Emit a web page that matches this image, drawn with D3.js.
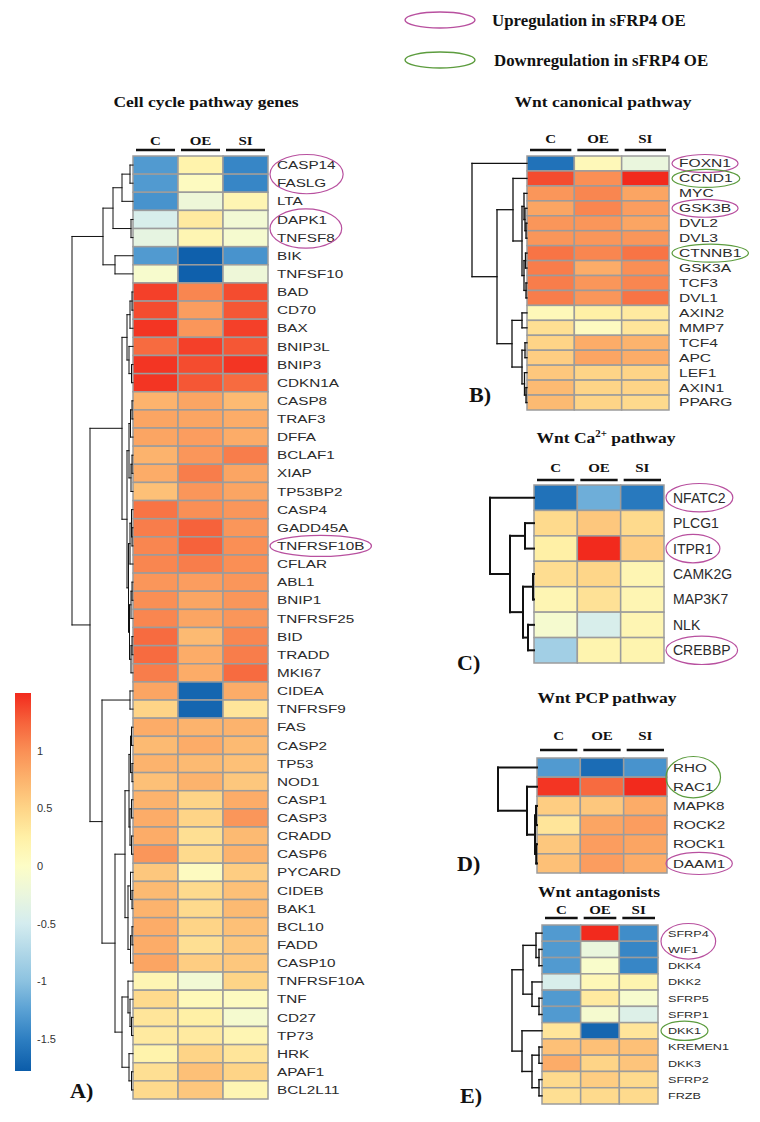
<!DOCTYPE html>
<html>
<head>
<meta charset="utf-8">
<script src="https://cdn.jsdelivr.net/npm/d3@7"></script>
<style>
  body { margin: 0; background: #fff; }
  .lbl { font-family: "Liberation Sans", Arial, sans-serif; fill: #2b2b2b; }
  .serif { font-family: "Liberation Serif", "Times New Roman", serif; font-weight: bold; fill: #111; }
</style>
</head>
<body>
<div id="chart"></div>
<script>
const samples = ["C", "OE", "SI"];

// ---- A) cell cycle pathway genes
const genesA = ["CASP14","FASLG","LTA","DAPK1","TNFSF8","BIK","TNFSF10","BAD","CD70","BAX","BNIP3L","BNIP3","CDKN1A",
  "CASP8","TRAF3","DFFA","BCLAF1","XIAP","TP53BP2","CASP4","GADD45A","TNFRSF10B","CFLAR","ABL1","BNIP1","TNFRSF25",
  "BID","TRADD","MKI67","CIDEA","TNFRSF9","FAS","CASP2","TP53","NOD1","CASP1","CASP3","CRADD","CASP6","PYCARD","CIDEB",
  "BAK1","BCL10","FADD","CASP10","TNFRSF10A","TNF","CD27","TP73","HRK","APAF1","BCL2L11"];
const cA  = [-1.3,-1.3,-1.35,-0.45,-0.3,-1.3,-0.08, 1.4,1.35,1.45,1.2,1.45,1.45, 0.75,0.85,0.85,0.75,0.8,0.65,
  1.15,1.1,1.05,1.05,0.95,1.0,1.05,1.2,1.2,1.1, 0.85,0.5, 0.8,0.7,0.75,0.65,0.75,0.8,0.8,0.95,
  0.6,0.7,0.75,0.8,0.8,0.85, 0.15,0.45,0.35,0.3,0.2,0.4,0.45];
const oeA = [0.2,0.05,-0.2,0.3,0.15,-1.75,-1.75, 1.05,0.9,0.95,1.4,1.35,1.3, 0.85,0.85,0.9,0.95,1.1,0.95,
  1.0,1.25,1.25,1.1,0.9,0.85,0.85,0.7,0.8,0.8, -1.7,-1.7, 0.75,0.8,0.7,0.75,0.5,0.5,0.4,0.45,
  0.05,0.45,0.45,0.5,0.4,0.55, -0.15,0.1,0.25,0.3,0.5,0.65,0.6];
const siA = [-1.45,-1.45,0.15,-0.15,-0.1,-1.35,-0.2, 1.35,1.3,1.4,1.3,1.45,1.2, 0.7,0.8,0.8,1.1,0.85,0.85,
  0.95,0.95,1.0,1.0,0.95,0.95,0.95,1.05,1.1,1.2, 0.8,0.35, 0.75,0.7,0.65,0.6,0.8,0.95,0.7,0.75,
  0.55,0.65,0.7,0.65,0.6,0.6, 0.5,0.05,-0.1,0.15,0.35,0.5,0.15];
// dendrogram: [height, child, child]
const topA = [30, [20, [11, [3, "CASP14", "FASLG"], "LTA"], [2, "DAPK1", "TNFSF8"]], [18, "BIK", "TNFSF10"]];
const redA = [6, [3, [1, "BAD", "CD70"], "BAX"], [4, "BNIP3L", [1.5, "BNIP3", "CDKN1A"]]];
const orangeA = [6,
  [4, [2.5, [1, "CASP8", "TRAF3"], "DFFA"], [2, [1, "BCLAF1", "XIAP"], "TP53BP2"]],
  [4.5, [3, [1.5, "CASP4", [1, "GADD45A", "TNFRSF10B"]], "CFLAR"],
        [3.5, [2, [1, "ABL1", "BNIP1"], "TNFRSF25"], [2, [1, "BID", "TRADD"], "MKI67"]]]];
const lowA = [31, [3, "CIDEA", "TNFRSF9"],
  [18,
    [8, [4, [2.5, [1.5, "FAS", "CASP2"], [1, "TP53", "NOD1"]], [3, [1.5, "CASP1", "CASP3"], [1.5, "CRADD", "CASP6"]]],
        [5, [2.5, "PYCARD", [1, "CIDEB", "BAK1"]], [2.5, [1, "BCL10", "FADD"], "CASP10"]]],
    [11, [5, "TNFRSF10A", [3, "TNF", [1.5, "CD27", "TP73"]]], [4, "HRK", [1.5, "APAF1", "BCL2L11"]]]]];
const treeA = [61, topA, [43, [11, redA, orangeA], lowA]];
const upA = [["CASP14", "FASLG"], ["DAPK1", "TNFSF8"], ["TNFRSF10B"]];
const downA = [];

// ---- B) Wnt canonical pathway
const genesB = ["FOXN1","CCND1","MYC","GSK3B","DVL2","DVL3","CTNNB1","GSK3A","TCF3","DVL1","AXIN2","MMP7","TCF4","APC","LEF1","AXIN1","PPARG"];
const cB  = [-1.6,1.35,0.95,0.85,0.95,0.95,1.15,1.1,1.1,1.1,0.1,0.4,0.5,0.55,0.6,0.7,0.7];
const oeB = [0.1,1.0,1.05,1.05,0.95,0.95,1.05,0.8,0.95,0.95,0.25,0.05,0.8,0.85,0.5,0.5,0.5];
const siB = [-0.25,1.5,0.85,0.9,0.85,0.95,1.15,1.0,1.05,1.15,0.3,0.35,0.75,0.8,0.5,0.5,0.45];
const treeB = [55, "FOXN1", [30,
  [14, "CCND1", [5, [3, "MYC", [2, "GSK3B", [1, "DVL2", "DVL3"]]], [3, [1.5, "CTNNB1", "GSK3A"], [1, "TCF3", "DVL1"]]]],
  [15, [5, "AXIN2", "MMP7"], [5, [2, "TCF4", "APC"], [2.5, "LEF1", [1, "AXIN1", "PPARG"]]]]]];
const upB = [["FOXN1"], ["GSK3B"]];
const downB = [["CCND1"], ["CTNNB1"]];

// ---- C) Wnt Ca2+ pathway
const genesC = ["NFATC2","PLCG1","ITPR1","CAMK2G","MAP3K7","NLK","CREBBP"];
const cC  = [-1.6,0.45,0.25,0.42,0.15,-0.1,-0.85];
const oeC = [-1.15,0.6,1.5,0.48,0.38,-0.45,0.18];
const siC = [-1.55,0.45,0.55,0.15,0.15,0.15,0.18];
const treeC = [44, "NFATC2", [24, [9, "PLCG1", "ITPR1"], [11, [1, "CAMK2G", "MAP3K7"], [6, "NLK", "CREBBP"]]]];
const upC = [["NFATC2"], ["ITPR1"], ["CREBBP"]];
const downC = [];

// ---- D) Wnt PCP pathway
const genesD = ["RHO","RAC1","MAPK8","ROCK2","ROCK1","DAAM1"];
const cD  = [-1.3,1.45,0.55,0.35,0.6,0.65];
const oeD = [-1.65,1.2,0.6,0.85,0.9,0.9];
const siD = [-1.35,1.5,0.8,0.9,0.85,0.8];
const treeD = [39, "RHO", [10, "RAC1", [2, [1, "MAPK8", "ROCK2"], [0.8, "ROCK1", "DAAM1"]]]];
const upD = [["DAAM1"]];
const downD = [["RHO", "RAC1"]];

// ---- E) Wnt antagonists
const genesE = ["SFRP4","WIF1","DKK4","DKK2","SFRP5","SFRP1","DKK1","KREMEN1","DKK3","SFRP2","FRZB"];
const cE  = [-1.3,-1.3,-1.3,-0.45,-1.3,-1.3,0.35,0.65,0.8,0.45,0.4];
const oeE = [1.5,-0.25,-0.05,0.12,0.3,-0.1,-1.7,0.65,0.5,0.55,0.45];
const siE = [-1.4,-1.45,-1.45,0.18,-0.08,-0.4,0.35,0.65,0.62,0.45,0.45];
const treeE = [30, [19, [6, "SFRP4", [3, "WIF1", "DKK4"]], [10, "DKK2", [3, "SFRP5", "SFRP1"]]],
  [20, "DKK1", [10, [3, "KREMEN1", "DKK3"], [3, "SFRP2", "FRZB"]]]];
const upE = [["SFRP4", "WIF1"]];
const downE = [["DKK1"]];

// ---- colour key
const colorStops = [-1.78, -1.5, -1.25, -1, -0.5, -0.25, 0, 0.25, 0.5, 0.75, 1, 1.25, 1.5];
const colorRange = ["#0b5ca9","#2e7fc2","#5aa1d4","#8cc2e0","#d4ecef","#eaf6dd","#fdfdc6",
                    "#fff0a6","#fed487","#fcb36d","#fa8f55","#f6623b","#f22a1d"];
const legendTicks = [1, 0.5, 0, -0.5, -1, -1.5];
const keyItems = ["Upregulation in sFRP4 OE", "Downregulation in sFRP4 OE"];

const UP = "#b8509f", DOWN = "#5c9c3e";

const panels = [
  { letter: "A)", title: [["Cell cycle pathway genes"]], genes: genesA, values: [cA, oeA, siA], tree: treeA, up: upA, down: downA,
    x0: 133, x1: 268, y0: 156, y1: 1099, dendroW: 61, treeStroke: 1,
    titleX: 206, titleY: 107, headY: 145, lineY: 150, lblSize: 11.5, lblSx: 1.33, lblGap: 9,
    letterX: 70, letterY: 1098 },
  { letter: "B)", title: [["Wnt canonical pathway"]], genes: genesB, values: [cB, oeB, siB], tree: treeB, up: upB, down: downB,
    x0: 527, x1: 669, y0: 156, y1: 410, dendroW: 55, treeStroke: 1.3,
    titleX: 603, titleY: 107, headY: 143, lineY: 150, lblSize: 11, lblSx: 1.42, lblGap: 10,
    letterX: 469, letterY: 402 },
  { letter: "C)", title: [["Wnt Ca"], ["2+", true], [" pathway"]], genes: genesC, values: [cC, oeC, siC], tree: treeC, up: upC, down: downC,
    x0: 534, x1: 664, y0: 485, y1: 663, dendroW: 44, treeStroke: 2,
    titleX: 606, titleY: 443, headY: 472, lineY: 480, lblSize: 14, lblSx: 1.0, lblGap: 9,
    letterX: 457, letterY: 670 },
  { letter: "D)", title: [["Wnt PCP pathway"]], genes: genesD, values: [cD, oeD, siD], tree: treeD, up: upD, down: downD,
    x0: 537, x1: 667, y0: 758, y1: 873, dendroW: 39, treeStroke: 2,
    titleX: 607, titleY: 703, headY: 740, lineY: 750, lblSize: 11.7, lblSx: 1.3, lblGap: 6,
    letterX: 457, letterY: 871 },
  { letter: "E)", title: [["Wnt antagonists"]], genes: genesE, values: [cE, oeE, siE], tree: treeE, up: upE, down: downE,
    x0: 542, x1: 658, y0: 925, y1: 1104, dendroW: 30, treeStroke: 1.4,
    titleX: 599, titleY: 897, headY: 914, lineY: 918, lblSize: 9.5, lblSx: 1.33, lblGap: 10,
    letterX: 460, letterY: 1103 }
];

const width = 760, height = 1122;
const svg = d3.select("#chart").append("svg").attr("width", width).attr("height", height);
svg.append("rect").attr("width", width).attr("height", height).attr("fill", "#fff");

const color = d3.scaleLinear().domain(colorStops).range(colorRange).clamp(true);

function putText(g, x, y, parts, size, sx, cls, anchor) {
  const t = g.append("text").attr("class", cls)
    .attr("transform", `translate(${x},${y}) scale(${sx},1)`)
    .attr("text-anchor", anchor || "start")
    .style("font-size", size + "px");
  parts.forEach(([s, sup]) => {
    const ts = t.append("tspan").text(s);
    if (sup) ts.attr("dy", -size * 0.38).style("font-size", (size * 0.62) + "px");
    else if (t.selectAll("tspan").size() > 1) ts.attr("dy", size * 0.38);
  });
  return t;
}

function drawPanel(p) {
  const g = svg.append("g");
  const x = d3.scaleBand().domain(samples).range([p.x0, p.x1]);
  const y = d3.scaleBand().domain(p.genes).range([p.y0, p.y1]);

  // title + column headers
  putText(g, p.titleX, p.titleY, p.title, 15.5, 1.13, "serif", "middle");
  samples.forEach(s => {
    putText(g, x(s) + x.bandwidth() / 2, p.headY, [[s]], 12, 1.25, "serif", "middle");
  });
  g.selectAll("line.head").data(samples).join("line").attr("class", "head")
    .attr("x1", d => x(d) + 3).attr("x2", d => x(d) + x.bandwidth() - 3)
    .attr("y1", p.lineY).attr("y2", p.lineY)
    .attr("stroke", "#111").attr("stroke-width", 2.6);

  // cells
  const cells = p.genes.flatMap((gene, i) => samples.map((s, j) => ({ gene, s, v: p.values[j][i] })));
  g.selectAll("rect.cell").data(cells).join("rect").attr("class", "cell")
    .attr("x", d => x(d.s)).attr("y", d => y(d.gene))
    .attr("width", x.bandwidth()).attr("height", y.bandwidth())
    .attr("fill", d => color(d.v))
    .attr("stroke", "#9c9c9c").attr("stroke-width", 1.5);

  // dendrogram
  const root = d3.hierarchy(p.tree, d => Array.isArray(d) ? d.slice(1) : null);
  const hx = d3.scaleLinear().domain([0, p.tree[0]]).range([p.x0, p.x0 - p.dendroW]);
  root.eachAfter(n => {
    if (!n.children) { n.h = 0; n.yy = y(n.data) + y.bandwidth() / 2; }
    else { n.h = n.data[0]; n.yy = d3.mean(n.children, c => c.yy); }
  });
  const segs = [];
  root.each(n => {
    if (!n.children) return;
    const nx = hx(n.h);
    segs.push([nx, n.children[0].yy, nx, n.children[n.children.length - 1].yy]);
    n.children.forEach(c => segs.push([nx, c.yy, hx(c.h), c.yy]));
  });
  g.selectAll("line.tree").data(segs).join("line").attr("class", "tree")
    .attr("x1", d => d[0]).attr("y1", d => d[1]).attr("x2", d => d[2]).attr("y2", d => d[3])
    .attr("stroke", "#111").attr("stroke-width", p.treeStroke).attr("stroke-linecap", "square");

  // gene labels
  const lx = p.x1 + p.lblGap;
  const widths = {};
  p.genes.forEach(gene => {
    const t = putText(g, lx, y(gene) + y.bandwidth() / 2, [[gene]], p.lblSize, p.lblSx, "lbl");
    t.attr("dy", "0.36em");
    widths[gene] = t.node().getBoundingClientRect().width;
  });

  // regulation ellipses
  const groups = p.up.map(gs => ({ gs, c: UP })).concat(p.down.map(gs => ({ gs, c: DOWN })));
  groups.forEach(({ gs, c }) => {
    const w = d3.max(gs, gg => widths[gg]);
    const cy = d3.mean(gs, gg => y(gg) + y.bandwidth() / 2);
    g.append("ellipse")
      .attr("cx", lx + w / 2).attr("cy", cy)
      .attr("rx", w / 2 + 7).attr("ry", gs.length * y.bandwidth() / 2 + 1.5)
      .attr("fill", "none").attr("stroke", c).attr("stroke-width", 1.2);
  });

  putText(g, p.letterX, p.letterY, [[p.letter]], 21, 1.05, "serif");
}

panels.forEach(drawPanel);

// colour bar
const barTop = 693, barBottom = 1071;
const legY = d3.scaleLinear().domain([colorStops[colorStops.length - 1], colorStops[0]]).range([barTop, barBottom]);
const grad = svg.append("defs").append("linearGradient").attr("id", "keygrad")
  .attr("x1", 0).attr("x2", 0).attr("y1", 0).attr("y2", 1);
grad.selectAll("stop").data(colorStops.slice().reverse()).join("stop")
  .attr("offset", d => (legY(d) - barTop) / (barBottom - barTop))
  .attr("stop-color", d => color(d));
svg.append("rect").attr("x", 15).attr("y", barTop).attr("width", 16).attr("height", barBottom - barTop)
  .attr("fill", "url(#keygrad)");
const axis = svg.append("g").attr("transform", "translate(31,0)")
  .call(d3.axisRight(legY).tickValues(legendTicks).tickSize(0).tickPadding(6).tickFormat(d => String(d)));
axis.select(".domain").remove();
axis.selectAll("text").attr("fill", "#333")
  .style("font-family", "'Liberation Sans Narrow', 'Liberation Sans', Arial, sans-serif").style("font-size", "11px");

// up / down key
const key = svg.append("g");
keyItems.forEach((k, i) => {
  const cy = 20 + i * 40;
  key.append("ellipse").attr("cx", 440).attr("cy", cy).attr("rx", 35).attr("ry", 8)
    .attr("fill", "none").attr("stroke", i === 0 ? UP : DOWN).attr("stroke-width", 1.4);
  putText(key, 492 + i * 2, cy + 5.5, [[k]], 16.5, 1.02, "serif");
});
</script>
</body>
</html>
